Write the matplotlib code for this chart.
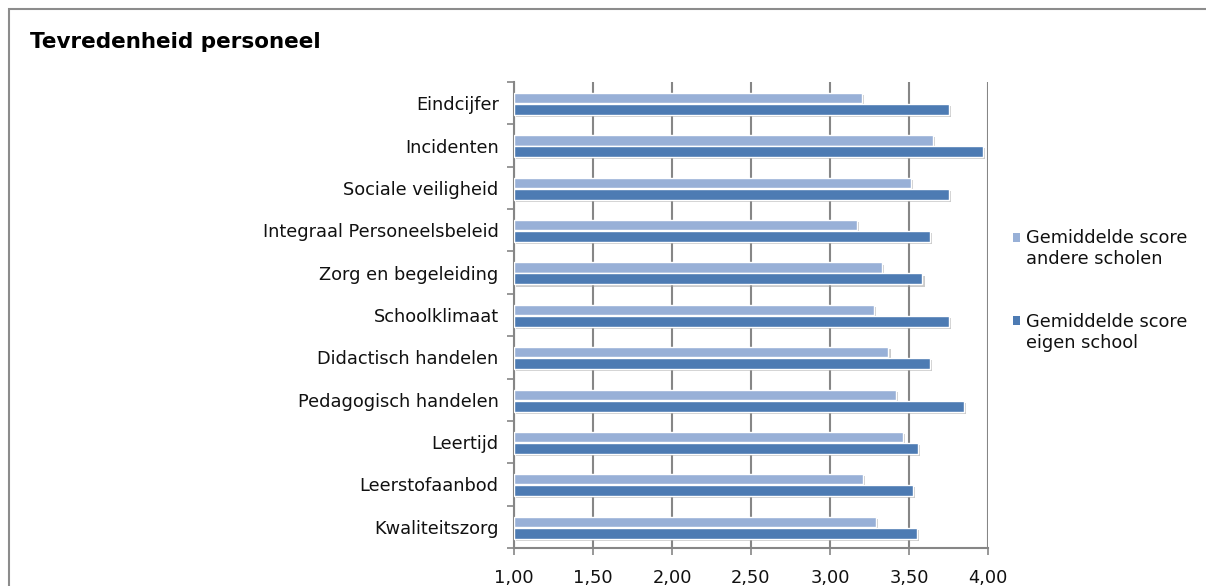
import matplotlib
matplotlib.use("Agg")
import matplotlib.pyplot as plt
import matplotlib.patheffects as pe
from matplotlib.patches import Rectangle
import numpy as np

categories = ["Eindcijfer", "Incidenten", "Sociale veiligheid", "Integraal Personeelsbeleid",
              "Zorg en begeleiding", "Schoolklimaat", "Didactisch handelen",
              "Pedagogisch handelen", "Leertijd", "Leerstofaanbod", "Kwaliteitszorg"]
andere_scholen = [3.20, 3.65, 3.51, 3.17, 3.33, 3.28, 3.37, 3.42, 3.46, 3.21, 3.29]
eigen_school = [3.75, 3.97, 3.75, 3.63, 3.585, 3.75, 3.63, 3.85, 3.555, 3.525, 3.55]
xticks = [1.0, 1.5, 2.0, 2.5, 3.0, 3.5, 4.0]
xticklabels = ["1,00", "1,50", "2,00", "2,50", "3,00", "3,50", "4,00"]
series_names = ["Gemiddelde score\nandere scholen", "Gemiddelde score\neigen school"]

c_light = "#98B0D7"
c_dark = "#4D7BB3"
FS = 12.8

W, H = 1206, 586
fig = plt.figure(figsize=(W / 100, H / 100), dpi=100)
fig.patch.set_facecolor("white")

# outer border
fig.patches.append(Rectangle((9 / W, -0.1), 1.2, 1 - 9 / H + 0.1, transform=fig.transFigure,
                             fill=False, edgecolor="#8C8C8C", linewidth=1.5))

fig.text(30 / W, 1 - 42 / H, "Tevredenheid personeel", fontsize=15.5, fontweight="bold",
         va="center", ha="left", family="DejaVu Sans")

ax = fig.add_axes([514 / W, 38 / H, 474 / W, 466 / H])
n = len(categories)
y = np.arange(n)
shadow = [pe.SimplePatchShadow(offset=(1.5, -1.5), shadow_rgbFace="#999999", alpha=0.5), pe.Normal()]
b1 = ax.barh(y - 0.12, [v - 1 for v in andere_scholen], left=1, height=0.24, color=c_light,
             edgecolor="white", linewidth=1, zorder=3, label=series_names[0])
b2 = ax.barh(y + 0.15, [v - 1 for v in eigen_school], left=1, height=0.26, color=c_dark,
             edgecolor="white", linewidth=1, zorder=3, label=series_names[1])
for b in list(b1) + list(b2):
    b.set_path_effects(shadow)

ax.set_xlim(1, 4)
ax.set_ylim(n - 0.5, -0.5)
ax.set_xticks(xticks)
ax.set_xticklabels(xticklabels, fontsize=FS, color="#111111")
ax.tick_params(axis="x", length=5, width=1.2, color="#868686", pad=10)
ax.set_yticks(np.arange(-0.5, n, 1.0))
ax.set_yticklabels([])
ax.tick_params(axis="y", which="major", length=5, width=1.2, color="#868686")
ax.set_yticks(y, minor=True)
ax.set_yticklabels(categories, minor=True, fontsize=FS, color="#111111")
ax.tick_params(axis="y", which="minor", length=0, pad=11)

ax.grid(axis="x", color="#868686", linewidth=1.5, zorder=0)
ax.set_axisbelow(True)
ax.spines["top"].set_visible(False)
ax.spines["right"].set_visible(False)
for s in ["left", "bottom"]:
    ax.spines[s].set_color("#868686")
    ax.spines[s].set_linewidth(1.5)

leg = fig.legend(handles=[b1, b2], labels=series_names, loc="upper left",
                 bbox_to_anchor=(1006 / W, 1 - 222 / H), frameon=False, fontsize=FS,
                 handlelength=0.4, handleheight=0.4, handletextpad=0.35, labelspacing=2.52,
                 borderaxespad=0)
for t in leg.get_texts():
    t.set_color("#111111")
for h in leg.legend_handles:
    h.set_path_effects([])
    h.set_edgecolor("none")
    h.set_y(h.get_y() + 8.5)

fig.savefig("out.png", dpi=100, facecolor="white")
